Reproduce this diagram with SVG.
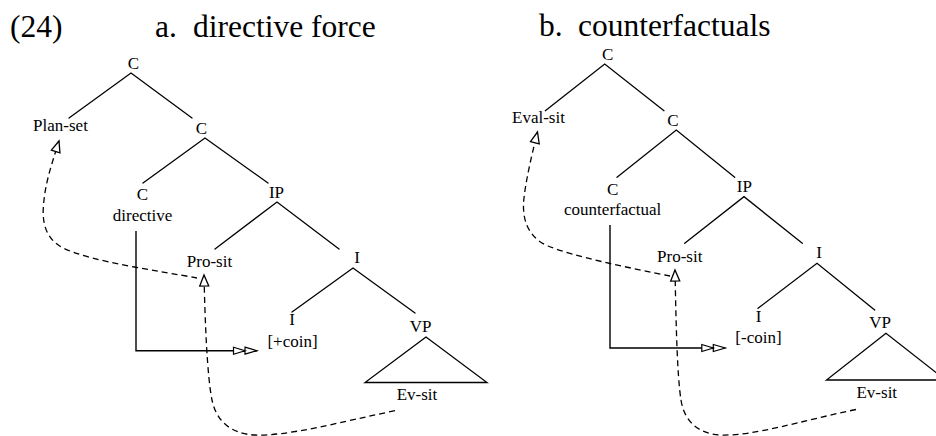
<svg xmlns="http://www.w3.org/2000/svg" width="936" height="436" viewBox="0 0 936 436">
  <style>
    text { font-family: "Liberation Serif", "Times New Roman", serif; fill: #000; }
    .hd { font-size: 31.5px; }
    .lb { font-size: 17px; text-anchor: middle; }
    .edge { stroke: #000; stroke-width: 1.3; fill: none; stroke-linecap: round; }
    .dash { stroke: #000; stroke-width: 1.3; fill: none; stroke-dasharray: 6 4; }
    .coin { stroke: #000; stroke-width: 1.4; fill: none; }
    .tri { stroke: #000; stroke-width: 1.3; fill: none; stroke-linejoin: miter; }
  </style>
  <defs>
    <marker id="open" markerUnits="userSpaceOnUse" markerWidth="14" markerHeight="12" refX="11.5" refY="5" orient="auto" overflow="visible">
      <path d="M0.5,0.5 L11.5,5 L0.5,9.5 Z" fill="#fff" stroke="#000" stroke-width="1.3" stroke-dasharray="none"/>
    </marker>
    <marker id="double" markerUnits="userSpaceOnUse" markerWidth="26" markerHeight="10" refX="24" refY="4" orient="auto" overflow="visible">
      <path d="M0.5,0.5 L12,4 L0.5,7.5 Z M12,0.5 L24,4 L12,7.5 Z" fill="#fff" stroke="#000" stroke-width="1.2"/>
    </marker>
  </defs>

  <!-- headings -->
  <g id="headings">
    <text class="hd" x="10" y="37">(24)</text>
    <text class="hd" x="155" y="37">a.</text>
    <text class="hd" x="193" y="37">directive force</text>
    <text class="hd" x="539" y="36">b.</text>
    <text class="hd" x="578" y="36">counterfactuals</text>
  </g>

  <!-- tree a: tree edges and coindexing arrows -->
  <g id="connectors">
    <g id="edges-a">
      <path class="edge" d="M69,118 L131,73 L192,118"/>
      <path class="edge" d="M143,183 L205,138 L268,183"/>
      <path class="edge" d="M215,249 L277,202 L339,249"/>
      <path class="edge" d="M292,312 L353,268 L415,313"/>
    </g>
    <g id="edges-b">
      <path class="edge" d="M545.3,110.7 L604.7,64 L664,110.7"/>
      <path class="edge" d="M617,177.3 L676.3,130 L734.7,177.3"/>
      <path class="edge" d="M684.7,243.3 L744,196.7 L802.3,243.3"/>
      <path class="edge" d="M758,308.3 L817,263.3 L874.7,310"/>
    </g>
    <g id="binding-a">
      <path class="dash" marker-end="url(#open)" d="M197,278 C160,271 92,262 63,248 C42,237 42,216 44,200 C46,181 52,163 59,141"/>
      <path class="dash" marker-end="url(#open)" d="M395,410.7 C340,422 290,436 255,435 C230,434 216,420 212,400 C207,375 205,320 204,275"/>
      <path class="coin" marker-end="url(#double)" d="M136,231 L136,350.7 L257,350.7"/>
    </g>
    <g id="binding-b">
      <path class="dash" marker-end="url(#open)" d="M670,276 C630,268 575,257 548,246 C525,236 522,215 524,198 C526,180 531,158 537.5,132"/>
      <path class="dash" marker-end="url(#open)" d="M856,409.5 C800,421 755,436 721,435 C697,434 684,420 681,400 C677,375 676,320 675,270"/>
      <path class="coin" marker-end="url(#double)" d="M610,225 L610,348 L725.3,348"/>
    </g>
  </g>

  <!-- tree a nodes -->
  <g id="a-c-root"><text class="lb" x="133.5" y="69">C</text></g>
  <g id="a-plan-set"><text class="lb" x="60.5" y="130.5">Plan-set</text></g>
  <g id="a-c-bar"><text class="lb" x="201.5" y="134">C</text></g>
  <g id="a-c-head">
    <text class="lb" x="142.5" y="200">C</text>
    <text class="lb" x="142.5" y="221">directive</text>
  </g>
  <g id="a-ip"><text class="lb" x="276.5" y="198">IP</text></g>
  <g id="a-pro-sit"><text class="lb" x="209.5" y="266.5">Pro-sit</text></g>
  <g id="a-i-bar"><text class="lb" x="357" y="262.5">I</text></g>
  <g id="a-i-head">
    <text class="lb" x="292" y="325">I</text>
    <text class="lb" x="292.5" y="346.5">[+coin]</text>
  </g>
  <g id="a-vp">
    <text class="lb" x="420.5" y="331.5">VP</text>
    <path class="tri" d="M426,337 L365,382.5 L487,382.5 Z"/>
    <text class="lb" x="417" y="400">Ev-sit</text>
  </g>

  <!-- tree b nodes -->
  <g id="b-c-root"><text class="lb" x="607.7" y="60">C</text></g>
  <g id="b-eval-sit"><text class="lb" x="538.5" y="123.3">Eval-sit</text></g>
  <g id="b-c-bar"><text class="lb" x="673" y="126">C</text></g>
  <g id="b-c-head">
    <text class="lb" x="612.7" y="195">C</text>
    <text class="lb" x="612.7" y="215">counterfactual</text>
  </g>
  <g id="b-ip"><text class="lb" x="744.3" y="192.3">IP</text></g>
  <g id="b-pro-sit"><text class="lb" x="679.7" y="261.7">Pro-sit</text></g>
  <g id="b-i-bar"><text class="lb" x="819" y="258.3">I</text></g>
  <g id="b-i-head">
    <text class="lb" x="758.5" y="321.7">I</text>
    <text class="lb" x="758.5" y="343.3">[-coin]</text>
  </g>
  <g id="b-vp">
    <text class="lb" x="880" y="328.3">VP</text>
    <path class="tri" d="M886,333.3 L826.5,380 L945.5,380 Z"/>
    <text class="lb" x="876.8" y="398.3">Ev-sit</text>
  </g>
</svg>
